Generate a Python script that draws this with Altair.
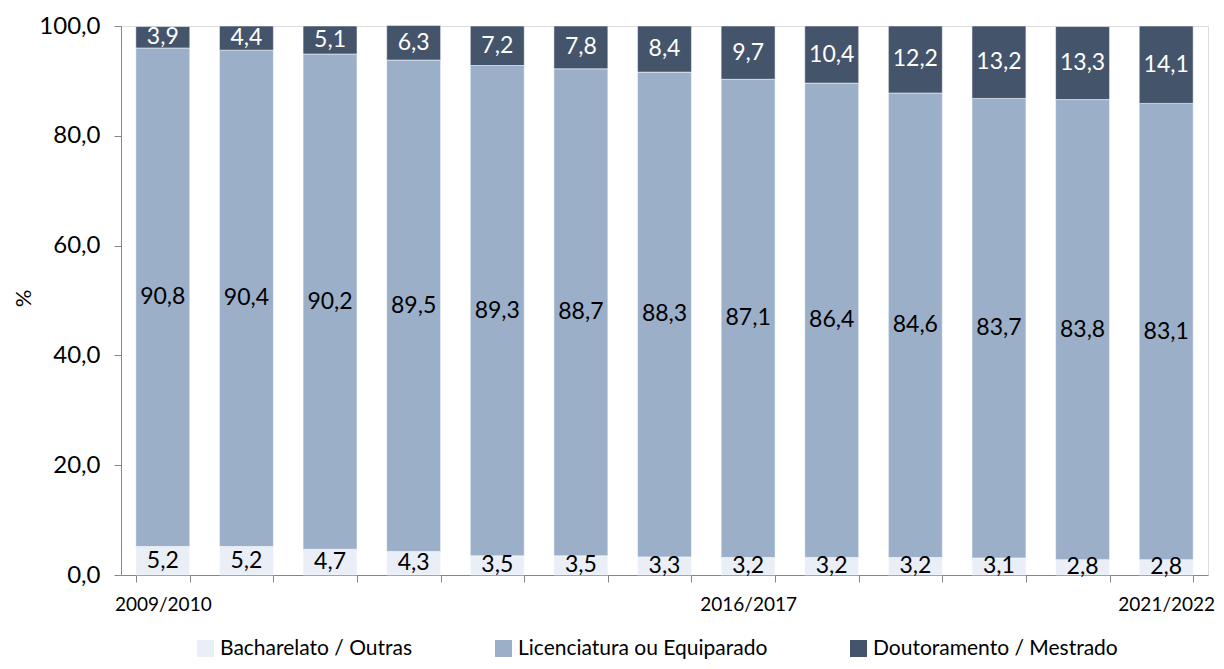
import altair as alt
import pandas as pd

years = ["2009/2010", "2010/2011", "2011/2012", "2012/2013", "2013/2014", "2014/2015",
         "2015/2016", "2016/2017", "2017/2018", "2018/2019", "2019/2020", "2020/2021", "2021/2022"]
series = ["Bacharelato / Outras", "Licenciatura ou Equiparado", "Doutoramento / Mestrado"]
bacharelato = [5.2, 5.2, 4.7, 4.3, 3.5, 3.5, 3.3, 3.2, 3.2, 3.2, 3.1, 2.8, 2.8]
licenciatura = [90.8, 90.4, 90.2, 89.5, 89.3, 88.7, 88.3, 87.1, 86.4, 84.6, 83.7, 83.8, 83.1]
doutoramento = [3.9, 4.4, 5.1, 6.3, 7.2, 7.8, 8.4, 9.7, 10.4, 12.2, 13.2, 13.3, 14.1]
colors = ["#E9EEF7", "#9BAFC9", "#44546A"]
shown_labels = ["2009/2010", "2016/2017", "2021/2022"]

rows = []
for i, y in enumerate(years):
    for k, (s, vals) in enumerate(zip(series, [bacharelato, licenciatura, doutoramento])):
        rows.append({"ano": y, "serie": s, "ordem": k, "valor": vals[i]})
df = pd.DataFrame(rows)

FONT = "Lato"
label_expr = " || ".join([f"datum.value == '{l}'" for l in shown_labels])

x_enc = alt.X("ano:N", sort=years, title=None,
              scale=alt.Scale(paddingInner=0.355, paddingOuter=0.1775),
              axis=alt.Axis(labelAngle=0, tickBand="extent", labelExpr=f"({label_expr}) ? datum.value : ''",
                            labelFontSize=19, labelColor="#000000", labelFont=FONT, labelPadding=13,
                            tickSize=7, tickColor="#868686", domainColor="#868686", labelOverlap=False))

base = alt.Chart(df).transform_stack(
    stack="valor", groupby=["ano"], as_=["y0", "y1"], sort=[alt.SortField("ordem", order="ascending")]
).transform_calculate(mid="(datum.y0 + datum.y1) / 2", lbl="replace(format(datum.valor, '.1f'), '.', ',')")

bars = base.mark_bar(stroke="#ffffff", strokeOpacity=0.5, strokeWidth=1).encode(
    x=x_enc,
    y=alt.Y("y0:Q", title="%", scale=alt.Scale(domain=[0, 100], nice=False),
            axis=alt.Axis(values=[0, 20, 40, 60, 80, 100], grid=False,
                          labelExpr="replace(format(datum.value, '.1f'), '.', ',')",
                          labelFontSize=24, labelColor="#000000", labelFont=FONT, labelPadding=14,
                          tickSize=7, tickColor="#868686", domainColor="#868686",
                          titleFontSize=22, titleFont=FONT, titleFontWeight="normal", titleColor="#000000",
                          titleX=-86, titleY=272, titleAngle=-90)),
    y2="y1:Q",
    color=alt.Color("serie:N", sort=series, scale=alt.Scale(domain=series, range=colors),
                    legend=alt.Legend(title=None, orient="none", direction="horizontal",
                                      legendX=74, legendY=612, symbolType="square", symbolSize=289,
                                      symbolStrokeWidth=0, labelFontSize=21, labelFont=FONT,
                                      labelColor="#000000", columnPadding=80, labelOffset=4,
                                      gridAlign="none", labelLimit=400)),
    order=alt.Order("ordem:Q"),
)

text = base.mark_text(fontSize=23, font=FONT, baseline="middle", align="center").encode(
    x=alt.X("ano:N", sort=years),
    y=alt.Y("mid:Q"),
    text="lbl:N",
    color=alt.condition("datum.ordem == 2", alt.value("#ffffff"), alt.value("#000000")),
)

chart = alt.layer(bars, text).properties(
    width=1087, height=549,
    autosize=alt.AutoSizeParams(type="none"),
    padding={"left": 113, "top": 18, "right": 8, "bottom": 86},
).configure_view(stroke=None).configure(background="#ffffff")

chart.save("out.html", embed_options={"renderer": "svg", "actions": False})
